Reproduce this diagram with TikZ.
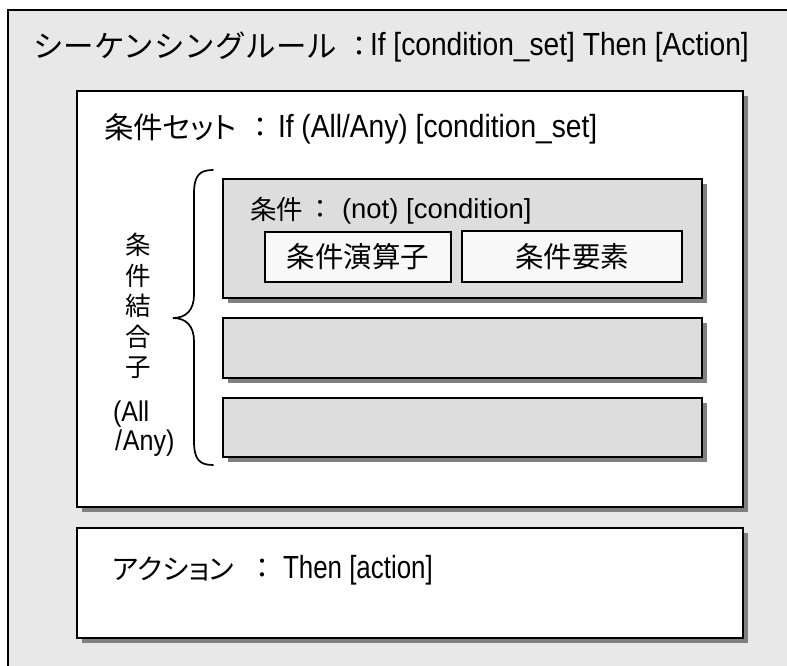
\documentclass[tikz,border=0pt]{standalone}
\usepackage{fontspec}
\setmainfont{Liberation Sans}
\newfontfamily\jp{Noto Sans CJK JP}
\newfontfamily\jpp{Noto Sans CJK JP}[RawFeature=+palt]
\newfontfamily\lat{Liberation Sans}[FakeStretch=0.88]
\newfontfamily\latn{Liberation Sans}[FakeStretch=0.81]
\newfontfamily\latw{Liberation Sans}
\usetikzlibrary{shadows}
\definecolor{outerbg}{HTML}{E8E8E8}
\definecolor{condbg}{HTML}{DDDDDD}
\definecolor{innerbg}{HTML}{F8F8F8}
\definecolor{shadowc}{HTML}{808080}
\begin{document}
\begin{tikzpicture}[x=1pt,y=-1pt,
  frame/.style={draw=black, line width=1.4pt, rectangle, anchor=north west, inner sep=0pt, outer sep=0pt},
  shad/.style={drop shadow={shadow xshift=5pt, shadow yshift=-5pt, fill=shadowc, opacity=1}},
  txt/.style={inner sep=0pt, outer sep=0pt},
  bracestyle/.style={draw=black, line width=1.7pt, line cap=round},
]
\useasboundingbox (0,0) rectangle (787,666);
% outer rule frame
\node[frame, fill=outerbg, minimum width=800pt, minimum height=680pt] (rule) at (8,10) {};
% condition set
\node[frame, fill=white, shad, minimum width=666pt, minimum height=416pt] (condset) at (77,91) {};
% conditions
\node[frame, fill=condbg, shad, minimum width=479pt, minimum height=119pt] (cond1) at (223,179) {};
\node[frame, fill=condbg, shad, minimum width=479pt, minimum height=60pt] (cond2) at (223,318) {};
\node[frame, fill=condbg, shad, minimum width=479pt, minimum height=59pt] (cond3) at (223,398) {};
% inner boxes
\node[frame, fill=innerbg, minimum width=186pt, minimum height=50pt] (op) at (265,232) {};
\node[txt, font=\fontsize{28.5}{30}\selectfont\jp] (optext) at (op.center) {条件演算子};
\node[frame, fill=innerbg, minimum width=220pt, minimum height=51pt] (elem) at (462,231) {};
\node[txt, font=\fontsize{28.5}{30}\selectfont\jp] (elemtext) at (elem.center) {条件要素};
% action
\node[frame, fill=white, shad, minimum width=666pt, minimum height=110pt] (action) at (77,528) {};

% title
\node[txt, anchor=base west, font=\fontsize{30.5}{32}\selectfont\jp] (t1jp) at (33,58) {シーケンシングルール};
\node[txt, anchor=base, font=\fontsize{28}{30}\selectfont\jp] (t1c) at (359,57) {：};
\node[txt, anchor=base west, font=\fontsize{32}{32}\selectfont\lat] (t1en) at (370,56) {If [condition\_set] Then [Action]};

% condition set title
\node[txt, anchor=base west, font=\fontsize{29.5}{30}\selectfont\jpp] (t2jp) at (104,139) {条件セット};
\node[txt, anchor=base, font=\fontsize{28}{30}\selectfont\jp] (t2c) at (260,138) {：};
\node[txt, anchor=base west, font=\fontsize{32}{32}\selectfont\lat] (t2en) at (278,138) {If (All/Any) [condition\_set]};

% condition title
\node[txt, anchor=base west, font=\fontsize{26.5}{28}\selectfont\jp] (t3jp) at (250,219) {条件};
\node[txt, anchor=base, font=\fontsize{26}{28}\selectfont\jp] (t3c) at (320,218) {：};
\node[txt, anchor=base west, font=\fontsize{27.5}{28}\selectfont\latw] (t3en) at (342,218) {(not) [condition]};

% action title
\node[txt, anchor=base west, font=\fontsize{28}{30}\selectfont\jpp] (t4jp) at (113,579) {アクション};
\node[txt, anchor=base, font=\fontsize{28}{30}\selectfont\jp] (t4c) at (262,578) {：};
\node[txt, anchor=base west, font=\fontsize{32}{32}\selectfont\latn] (t4en) at (283,578) {Then [action]};

% vertical label
\node[txt, align=center, font=\fontsize{25.5}{30.5}\selectfont\jp] (vlabel) at (138,306) {条\\件\\結\\合\\子};
\node[txt, anchor=base west, font=\fontsize{28.5}{29}\selectfont\lat] (all) at (113,421) {(All};
\node[txt, anchor=base west, font=\fontsize{28.5}{29}\selectfont\lat] (any) at (115,450) {/\kern1pt Any)};

% brace
\coordinate (btop) at (213,170);
\coordinate (btip) at (173,318);
\coordinate (bbot) at (213,465);
\draw[bracestyle] (btop) .. controls (199,170) and (194,176) .. (194,194) -- (194,295)
  .. controls (194,310) and (186,318) .. (btip)
  .. controls (186,318) and (194,326) .. (194,341) -- (194,441)
  .. controls (194,459) and (199,465) .. (bbot);
\end{tikzpicture}
\end{document}
